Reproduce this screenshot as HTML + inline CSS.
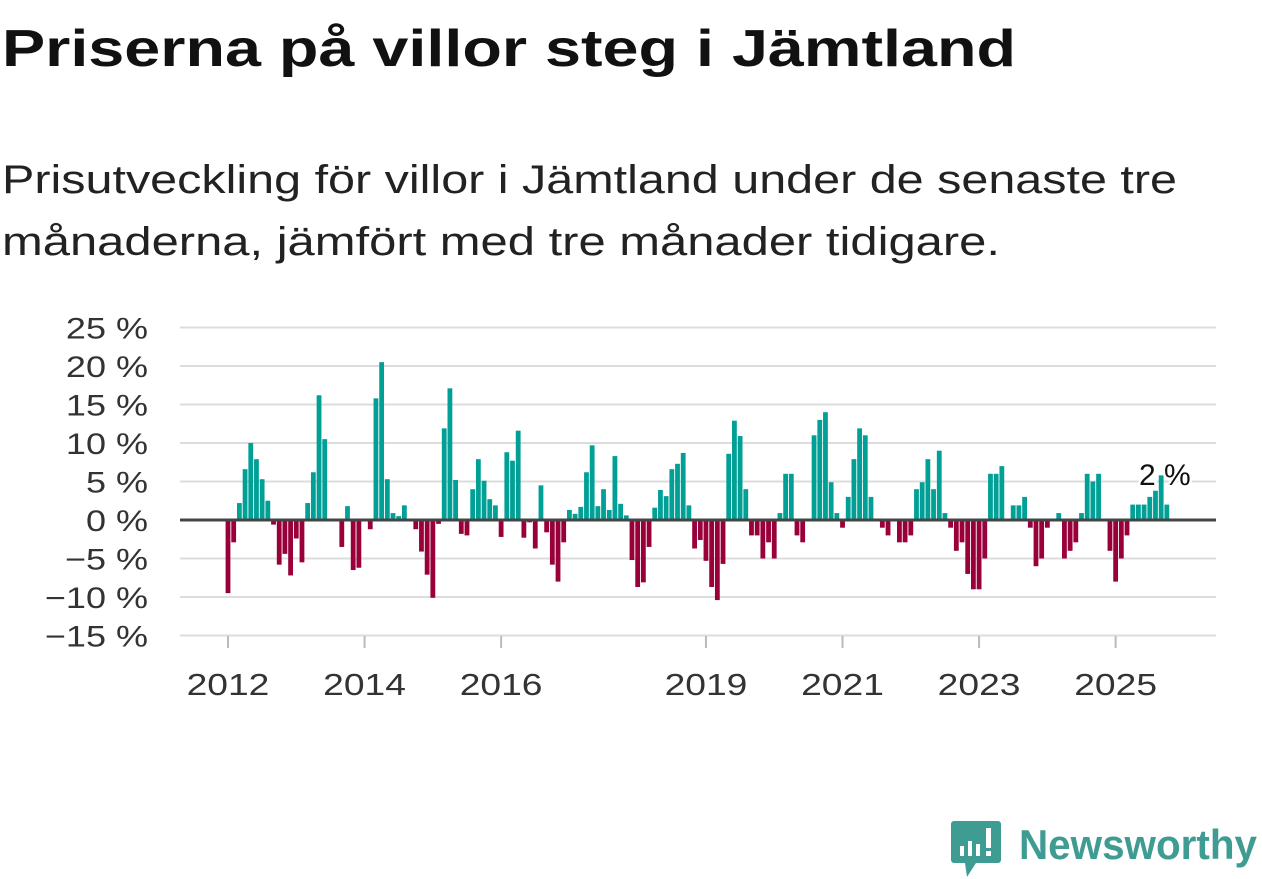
<!DOCTYPE html>
<html><head><meta charset="utf-8"><style>
html,body{margin:0;padding:0;background:#fff;}
svg{display:block;font-family:"Liberation Sans",sans-serif;}
</style></head><body>
<svg id="chart" width="1262" height="879" viewBox="0 0 1262 879">
<text x="2" y="66" font-size="52" font-weight="bold" fill="#111" textLength="1014" lengthAdjust="spacingAndGlyphs">Priserna på villor steg i Jämtland</text>
<text x="2" y="193" font-size="40" fill="#222" textLength="1175" lengthAdjust="spacingAndGlyphs">Prisutveckling för villor i Jämtland under de senaste tre</text>
<text x="2" y="255" font-size="40" fill="#222" textLength="998" lengthAdjust="spacingAndGlyphs">månaderna, jämfört med tre månader tidigare.</text>
<g id="grid"></g>
<g id="yticks"></g>
<g id="bars"></g>
<line x1="180" x2="1216" y1="520" y2="520" stroke="#444" stroke-width="3"/>
<g id="xticks"></g>
<g id="label"></g>
<g>
<path d="M954 821 h44 a3 3 0 0 1 3 3 v36 a3 3 0 0 1 -3 3 h-22 l-9 14 l-2 -14 h-11 a3 3 0 0 1 -3 -3 v-36 a3 3 0 0 1 3 -3z" fill="#3f9c92"/>
<rect x="960" y="846" width="4" height="10" fill="#fff"/>
<rect x="968" y="841" width="4" height="15" fill="#fff"/>
<rect x="976" y="844" width="4" height="12" fill="#fff"/>
<rect x="986" y="828" width="5" height="20" fill="#fff"/>
<rect x="986" y="851" width="5" height="5" fill="#fff"/>
<text x="1019" y="859" font-size="42" font-weight="bold" fill="#3f9c92" textLength="238" lengthAdjust="spacingAndGlyphs">Newsworthy</text>
</g>
</svg>
<script>
const values = [-9.5,-2.9,2.2,6.6,10,7.9,5.3,2.5,-0.6,-5.8,-4.4,-7.2,-2.4,-5.5,2.2,6.2,16.2,10.5,0,0,-3.5,1.8,-6.5,-6.2,0,-1.2,15.8,20.5,5.3,0.9,0.5,1.9,0,-1.2,-4.1,-7.1,-10.1,-0.5,11.9,17.1,5.2,-1.8,-2,4,7.9,5.1,2.7,1.9,-2.2,8.8,7.7,11.6,-2.3,-0.3,-3.7,4.5,-1.6,-5.8,-8,-2.9,1.3,0.8,1.7,6.2,9.7,1.8,4,1.3,8.3,2.1,0.6,-5.2,-8.7,-8.1,-3.5,1.6,3.9,3.1,6.6,7.3,8.7,1.9,-3.7,-2.6,-5.3,-8.7,-10.4,-5.7,8.6,12.9,10.9,4,-2,-2,-5,-2.9,-5,0.9,6,6,-2,-2.9,0,11,13,14,4.9,0.9,-1,3,7.9,11.9,11,3,0,-1,-2,0,-2.9,-2.9,-2,4,4.9,7.9,4,9,0.9,-1,-4,-2.9,-7,-9,-9,-5,6,6,7,0,1.9,1.9,3,-1,-6,-5,-1,0,0.9,-5,-4,-2.9,0.9,6,5,6,0,-4,-8,-5,-2,2,2,2,3,3.8,5.8,2];
const startYear = 2012;
const yTicks = [25,20,15,10,5,0,-5,-10,-15];
const xTickYears = [2012,2014,2016,2019,2021,2023,2025];
const lastLabel = "2 %";

const NS = "http://www.w3.org/2000/svg";
const y = v => 520 - v * 7.7;
const x = m => 228 + m * 5.69;
function mk(tag, attrs, parent){const e=document.createElementNS(NS,tag);for(const k in attrs)e.setAttribute(k,attrs[k]);parent.appendChild(e);return e;}
function widen(t,f){const w=t.getComputedTextLength();t.setAttribute('textLength',w*f);t.setAttribute('lengthAdjust','spacingAndGlyphs');}
const grid=document.getElementById('grid'), yt=document.getElementById('yticks'), bars=document.getElementById('bars'), xt=document.getElementById('xticks');
yTicks.forEach(t=>{
  if(t!==0){const l=mk('line',{x1:180,x2:1216,y1:y(t),y2:y(t),stroke:'#dcdcdc','stroke-width':2},grid);
  
  }
  const tx=mk('text',{x:148,y:y(t)+11,'font-size':30,fill:'#333','text-anchor':'end'},yt);
  tx.textContent=(t<0?'\u2212'+(-t):t)+' %';
  
  
  widen(tx,1.2);
});
values.forEach((v,i)=>{
  const r=mk('rect',{x:x(i)-2.4,width:4.8,y:Math.min(y(v),520),height:Math.abs(y(v)-520),fill:v>=0?'#00a096':'#99003a'},bars);
  
  
});
xTickYears.forEach(yr=>{
  const px=x((yr-startYear)*12);
  const l=mk('line',{x1:px,x2:px,y1:636,y2:648,stroke:'#bbb','stroke-width':2},xt);
  
  
  const tx=mk('text',{x:px,y:695,'font-size':31,fill:'#333','text-anchor':'middle'},xt);
  tx.textContent=yr;
  
  
  widen(tx,1.2);
});
const lg=document.getElementById('label');
const li=values.length-1;
const lt=mk('text',{x:x(li)-2,y:485,'font-size':30,fill:'#111','text-anchor':'middle',stroke:'#fff','stroke-width':5,'paint-order':'stroke'},lg);
lt.textContent=lastLabel;


</script>
</body></html>
